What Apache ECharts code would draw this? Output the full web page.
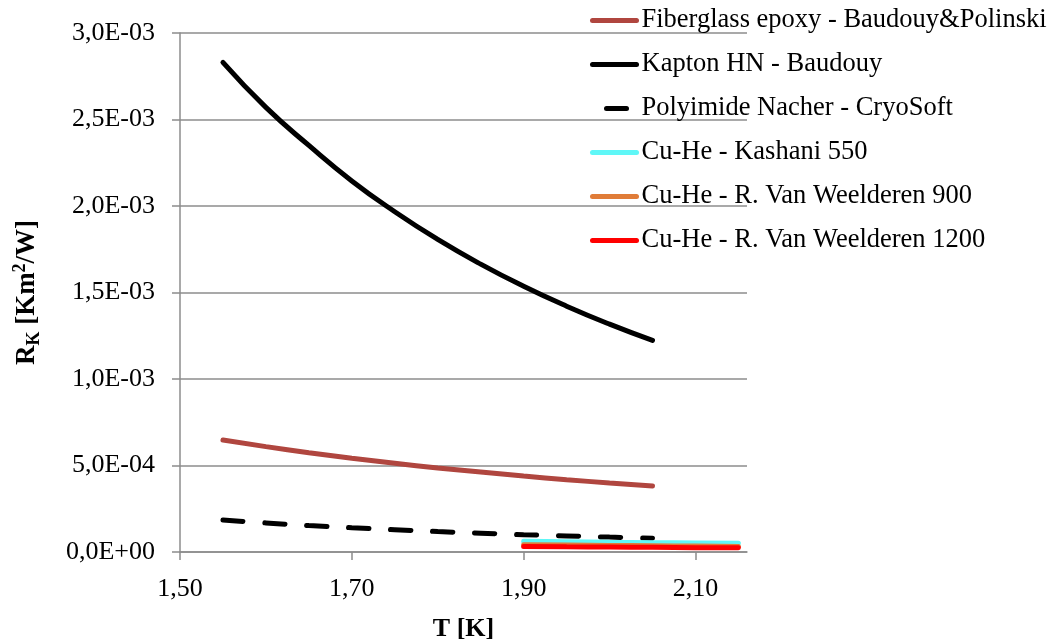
<!DOCTYPE html>
<html>
<head>
    <meta charset="utf-8">
    <title>Kapitza resistance</title>
    <script src="https://cdn.jsdelivr.net/npm/echarts@6/dist/echarts.min.js"></script>
    <style>
        html, body { margin: 0; padding: 0; background: #fff; }
    </style>
</head>
<body>
<div id="main" style="width: 1054px;height:642px;"></div>
<script type="text/javascript">
    // temperatures [K]
    var tInsul = [1.55, 1.60, 1.65, 1.70, 1.75, 1.80, 1.85, 1.90, 1.95, 2.00, 2.05];
    var tCuHe = [1.90, 1.95, 2.00, 2.05, 2.10, 2.15];

    // R_K values [Km2/W]
    var fiberglass = [6.47e-4, 6.09e-4, 5.74e-4, 5.42e-4, 5.13e-4, 4.86e-4, 4.62e-4, 4.39e-4, 4.18e-4, 3.99e-4, 3.81e-4];
    var kapton = [2.83e-3, 2.57e-3, 2.35e-3, 2.145e-3, 1.967e-3, 1.807e-3, 1.664e-3, 1.536e-3, 1.421e-3, 1.317e-3, 1.223e-3];
    var polyimide = [1.85e-4, 1.68e-4, 1.53e-4, 1.40e-4, 1.29e-4, 1.18e-4, 1.09e-4, 1.00e-4, 0.93e-4, 0.86e-4, 0.80e-4];
    var kashani = [6.2e-5, 5.9e-5, 5.6e-5, 5.4e-5, 5.2e-5, 5.0e-5];
    var weelderen900 = [4.2e-5, 4.0e-5, 3.8e-5, 3.6e-5, 3.4e-5, 3.2e-5];
    var weelderen1200 = [3.2e-5, 3.0e-5, 2.9e-5, 2.7e-5, 2.5e-5, 2.4e-5];

    var xTicks = [1.50, 1.70, 1.90, 2.10];

    var serif = "'Liberation Serif', 'Times New Roman', serif";

    function pairs(xs, ys) {
        var out = [];
        for (var i = 0; i < xs.length; i++) {
            out.push([xs[i], ys[i]]);
        }
        return out;
    }

    function sciLabel(v) {
        var s = v.toExponential(1); // e.g. 3.0e-3
        var parts = s.split('e');
        var mant = parts[0].replace('.', ',');
        var exp = parseInt(parts[1], 10);
        var sign = exp < 0 ? '-' : '+';
        var e = Math.abs(exp);
        return mant + 'E' + sign + (e < 10 ? '0' + e : e);
    }

    function line(name, xs, ys, color, dashed) {
        return {
            name: name,
            type: 'line',
            smooth: true,
            symbol: 'none',
            data: pairs(xs, ys),
            lineStyle: {
                color: color,
                width: 5,
                type: dashed ? [20, 22] : 'solid',
                cap: 'round'
            },
            itemStyle: { color: color }
        };
    }

    var myChart = echarts.init(document.getElementById('main'));

    var option = {
        backgroundColor: '#fff',
        animation: false,
        textStyle: { fontFamily: serif },
        grid: {
            left: 180,
            right: 307,
            top: 33,
            bottom: 90,
            outerBoundsMode: 'none'
        },
        legend: {
            orient: 'vertical',
            left: 590,
            top: 7,
            padding: 0,
            itemWidth: 44,
            itemHeight: 20,
            itemGap: 17,
            itemStyle: { opacity: 0 },
            lineStyle: { width: 5, cap: 'round' },
            textStyle: {
                fontFamily: serif,
                fontSize: 26.5,
                color: '#000'
            },
            data: [
                'Fiberglass epoxy - Baudouy&Polinski',
                'Kapton HN - Baudouy',
                {
                    name: 'Polyimide Nacher - CryoSoft',
                    lineStyle: { type: [20, 200], dashOffset: -14 }
                },
                'Cu-He - Kashani 550',
                'Cu-He - R. Van Weelderen 900',
                'Cu-He - R. Van Weelderen 1200'
            ]
        },
        xAxis: {
            type: 'value',
            min: 1.5,
            max: 2.16,
            interval: 0.2,
            name: 'T [K]',
            nameLocation: 'middle',
            nameGap: 64,
            nameTextStyle: {
                fontFamily: serif,
                fontSize: 26,
                fontWeight: 'bold',
                color: '#000'
            },
            axisLine: { show: true, lineStyle: { color: '#8c8c8c', width: 1.5 } },
            axisTick: {
                show: true,
                length: 8,
                customValues: xTicks,
                lineStyle: { color: '#8c8c8c', width: 1.5 }
            },
            axisLabel: {
                customValues: xTicks,
                margin: 24,
                fontFamily: serif,
                fontSize: 26,
                color: '#000',
                formatter: function (v) {
                    return v.toFixed(2).replace('.', ',');
                }
            },
            splitLine: { show: false }
        },
        yAxis: {
            type: 'value',
            min: 0,
            max: 0.003,
            interval: 0.0005,
            name: '{b|R}{sub|K}{b| [Km}{sup|2}{b|/W]}',
            nameLocation: 'middle',
            nameRotate: 90,
            nameGap: 137,
            nameTextStyle: {
                fontFamily: serif,
                color: '#000',
                rich: {
                    b: { fontFamily: serif, fontSize: 27, fontWeight: 'bold', color: '#000', lineHeight: 32 },
                    sub: { fontFamily: serif, fontSize: 18, fontWeight: 'bold', color: '#000', lineHeight: 18, verticalAlign: 'bottom' },
                    sup: { fontFamily: serif, fontSize: 18, fontWeight: 'bold', color: '#000', lineHeight: 18, verticalAlign: 'top' }
                }
            },
            axisLine: { show: true, lineStyle: { color: '#8c8c8c', width: 1.5 } },
            axisTick: { show: true, length: 8, lineStyle: { color: '#8c8c8c', width: 1.5 } },
            axisLabel: {
                margin: 25,
                fontFamily: serif,
                fontSize: 26,
                color: '#000',
                formatter: sciLabel
            },
            splitLine: { show: true, lineStyle: { color: '#8c8c8c', width: 1.5 } }
        },
        series: [
            line('Fiberglass epoxy - Baudouy&Polinski', tInsul, fiberglass, '#b0463f', false),
            line('Kapton HN - Baudouy', tInsul, kapton, '#000000', false),
            line('Polyimide Nacher - CryoSoft', tInsul, polyimide, '#000000', true),
            line('Cu-He - Kashani 550', tCuHe, kashani, '#5ff7f7', false),
            line('Cu-He - R. Van Weelderen 900', tCuHe, weelderen900, '#e07c38', false),
            line('Cu-He - R. Van Weelderen 1200', tCuHe, weelderen1200, '#ff0000', false)
        ]
    };

    myChart.setOption(option);
</script>
</body>
</html>
